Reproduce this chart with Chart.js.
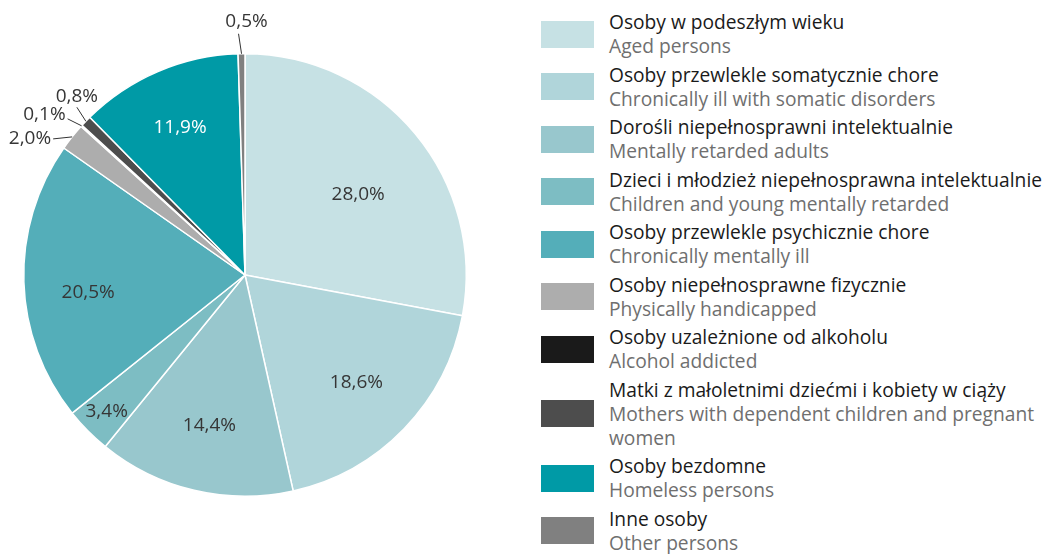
<!DOCTYPE html>
<html lang="pl">
<head>
<meta charset="utf-8">
<title>Mieszkańcy domów pomocy społecznej</title>
<script src="https://cdn.jsdelivr.net/npm/chart.js@4/dist/chart.umd.min.js"></script>
<style>
    html, body {
        margin: 0;
        padding: 0;
        background: #fff;
        width: 1044px;
        height: 554px;
        overflow: hidden;
        font-family: "Open Sans", sans-serif;
    }
    #chartBox {
        position: absolute;
        left: 0;
        top: 0;
        width: 490px;
        height: 554px;
    }
    #legend {
        position: absolute;
        left: 541px;
        top: 10px;
        width: 503px;
    }
    .legend-item {
        display: flex;
        align-items: center;
        margin-bottom: 4.5px;
    }
    .legend-swatch {
        width: 53px;
        height: 27px;
        flex: none;
        margin-right: 15px;
    }
    .legend-text {
        font-size: 19.2px;
        line-height: 24px;
        width: 434px;
    }
    .legend-pl { color: #1a1a1a; white-space: nowrap; }
    .legend-en { color: #6f6f6f; }
</style>
</head>
<body>
<div id="chartBox"><canvas id="pieChart"></canvas></div>
<div id="legend"></div>

<script>
/* ----------------------------------------
   DATA
---------------------------------------- */
const labelsPl = [
    "Osoby w podeszłym wieku",
    "Osoby przewlekle somatycznie chore",
    "Dorośli niepełnosprawni intelektualnie",
    "Dzieci i młodzież niepełnosprawna intelektualnie",
    "Osoby przewlekle psychicznie chore",
    "Osoby niepełnosprawne fizycznie",
    "Osoby uzależnione od alkoholu",
    "Matki z małoletnimi dziećmi i kobiety w ciąży",
    "Osoby bezdomne",
    "Inne osoby"
];

const labelsEn = [
    "Aged persons",
    "Chronically ill with somatic disorders",
    "Mentally retarded adults",
    "Children and young mentally retarded",
    "Chronically mentally ill",
    "Physically handicapped",
    "Alcohol addicted",
    "Mothers with dependent children and pregnant women",
    "Homeless persons",
    "Other persons"
];

const shares = [28.0, 18.6, 14.4, 3.4, 20.5, 2.0, 0.1, 0.8, 11.9, 0.5];

const sliceColors = [
    "#c6e1e4", "#b0d5da", "#98c7cd", "#7dbdc3", "#54aeb9",
    "#adadad", "#1a1a1a", "#4d4d4d", "#009aa6", "#808080"
];

/* ----------------------------------------
   HTML LEGEND (two languages per entry)
---------------------------------------- */
const legendBox = document.getElementById("legend");
labelsPl.forEach((pl, i) => {
    const item = document.createElement("div");
    item.className = "legend-item";
    item.innerHTML =
        `<div class="legend-swatch" style="background:${sliceColors[i]}"></div>` +
        `<div class="legend-text"><div class="legend-pl">${pl}</div>` +
        `<div class="legend-en">${labelsEn[i]}</div></div>`;
    legendBox.appendChild(item);
});

/* ----------------------------------------
   PERCENT LABELS PLUGIN
---------------------------------------- */
const fmtShare = v => v.toFixed(1).replace(".", ",") + "%";

const sliceLabels = {
    id: "sliceLabels",
    afterDatasetsDraw(chart, args, opts) {
        const ctx = chart.ctx;
        const meta = chart.getDatasetMeta(0);
        const values = chart.data.datasets[0].data;

        ctx.save();
        ctx.font = `${opts.size}px "Open Sans", sans-serif`;
        ctx.textBaseline = "middle";

        meta.data.forEach((arc, i) => {
            const p = arc.getProps(["x", "y", "startAngle", "endAngle", "outerRadius"], true);
            const mid = (p.startAngle + p.endAngle) / 2;
            const text = fmtShare(values[i]);
            const outside = opts.outside[i];

            if (outside) {
                // leader line from the rim of the slice
                const ex = p.x + Math.cos(mid) * p.outerRadius;
                const ey = p.y + Math.sin(mid) * p.outerRadius;
                const lx = ex + outside.lead[0];
                const ly = ey + outside.lead[1];
                ctx.strokeStyle = opts.lineColor;
                ctx.lineWidth = 1;
                ctx.beginPath();
                ctx.moveTo(ex, ey);
                ctx.lineTo(lx, ly);
                ctx.stroke();

                ctx.fillStyle = opts.color;
                ctx.textAlign = outside.align;
                ctx.fillText(text, lx + outside.text[0], ly + outside.text[1]);
                return;
            }

            const r = p.outerRadius * (values[i] < 5 ? 0.88 : 0.7);
            const nudge = opts.nudge[i] || [0, 0];
            ctx.fillStyle = opts.light.includes(i) ? "#ffffff" : opts.color;
            ctx.textAlign = "center";
            ctx.fillText(text,
                p.x + Math.cos(mid) * r + nudge[0],
                p.y + Math.sin(mid) * r + nudge[1]);
        });
        ctx.restore();
    }
};

/* ----------------------------------------
   PIE CHART
---------------------------------------- */
const ctx = document.getElementById("pieChart").getContext("2d");

new Chart(ctx, {
    type: "pie",
    data: {
        labels: labelsPl,
        datasets: [{
            data: shares,
            backgroundColor: sliceColors,
            borderColor: "#ffffff",
            borderWidth: 1.5
        }]
    },
    options: {
        responsive: true,
        maintainAspectRatio: false,
        animation: false,
        layout: {
            padding: { top: 53, bottom: 57, left: 23, right: 23 }
        },
        plugins: {
            legend: { display: false },
            tooltip: { enabled: false },
            sliceLabels: {
                size: 19,
                color: "#363636",
                lineColor: "#333333",
                light: [8],
                nudge: { 0: [-6, 19], 4: [-2, 13], 8: [-4, -5] },
                outside: {
                    5: { lead: [-19, 2], text: [-2, 0], align: "right" },
                    6: { lead: [-14, -7], text: [-2, -4], align: "right" },
                    7: { lead: [-9, -14], text: [0, -11], align: "center" },
                    9: { lead: [-3, -20], text: [8, -12], align: "center" }
                }
            }
        }
    },
    plugins: [sliceLabels]
});
</script>
</body>
</html>
